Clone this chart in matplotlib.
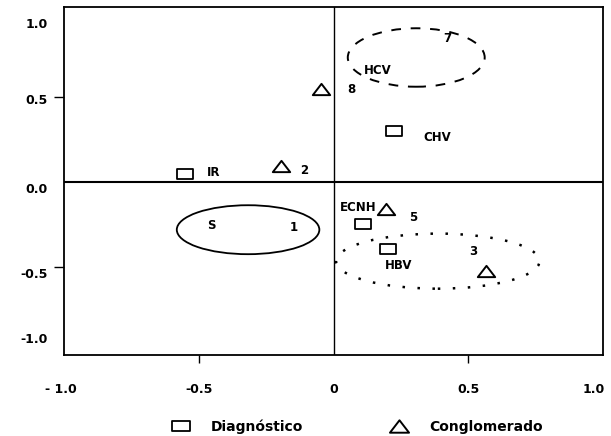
import matplotlib
matplotlib.use('Agg')
import matplotlib.pyplot as plt
from matplotlib.patches import Ellipse
from matplotlib.path import Path
from matplotlib.transforms import ScaledTranslation

plt.rcParams['font.family'] = ['DejaVu Sans']

# ---------------- data ----------------
diag_labels = ['IR', 'CHV', 'ECNH', 'HBV']
diag_x = [-0.55, 0.223, 0.109, 0.202]
diag_y = [0.048, 0.303, -0.246, -0.389]

cong_labels = ['8', '2', '5', '3']
cong_x = [-0.046, -0.194, 0.196, 0.566]
cong_y = [0.548, 0.097, -0.154, -0.521]

# labels drawn without a marker
extra_labels = ['S', '1', 'HCV', '7']
extra_x = [-0.455, -0.148, 0.165, 0.421]
extra_y = [-0.252, -0.266, 0.656, 0.848]

# cluster ellipses: centre x, centre y, width, height
ell_cx = [-0.317, 0.307, 0.387]
ell_cy = [-0.278, 0.735, -0.463]
ell_w = [0.529, 0.508, 0.755]
ell_h = [0.288, 0.344, 0.324]

xtick_vals = [-1.0, -0.5, 0.0, 0.5, 1.0]
xtick_labels = ['- 1.0', '-0.5', '0', '0.5', '1.0']
ytick_vals = [1.0, 0.5, 0.0, -0.5, -1.0]
ytick_labels = ['1.0', '0.5', '0.0', '-0.5', '-1.0']

# ---------------- styling ----------------
diag_offsets = [(20.2, 1.2), (31.3, -4.5), (-3.1, 12.0), (7.7, -12.0)]
cong_offsets = [(21.9, 0.0), (16.8, -3.6), (19.7, -6.5), (-8.9, 13.7)]
ell_styles = ['-', (0, (5, 5)), (0, (1, 5.0))]
ell_lws = [1.3, 1.4, 1.8]

rect = Path([(-1, -0.6), (1, -0.6), (1, 0.6), (-1, 0.6), (-1, -0.6)],
            [Path.MOVETO, Path.LINETO, Path.LINETO, Path.LINETO, Path.CLOSEPOLY])
tri = Path([(-1, -0.65), (1, -0.65), (0, 0.65), (-1, -0.65)],
           [Path.MOVETO, Path.LINETO, Path.LINETO, Path.CLOSEPOLY])

W, H = 611, 436
fig = plt.figure(figsize=(W / 100, H / 100), dpi=100)
ax = fig.add_axes([64 / W, 1 - 355 / H, (603 - 64) / W, (355 - 7) / H])
ax.set_xlim(-1.0, 1.0)
ax.set_ylim(-1.015, 1.032)

ax.axhline(0, color='black', lw=1.5, zorder=1)
ax.axvline(0, color='black', lw=1.0, zorder=1)

for cx, cy, w, h, ls, lw in zip(ell_cx, ell_cy, ell_w, ell_h, ell_styles, ell_lws):
    ax.add_patch(Ellipse((cx, cy), w, h, fill=False, edgecolor='black',
                         linestyle=ls, lw=lw, zorder=2))

ax.plot(diag_x, diag_y, ls='none', marker=rect, ms=12, mfc='white',
        mec='black', mew=1.3, label='Diagnóstico', zorder=3)
ax.plot(cong_x, cong_y, ls='none', marker=tri, ms=12.5, mfc='white',
        mec='black', mew=1.4, label='Conglomerado', zorder=3)

tfont = dict(fontsize=8.5, fontweight='bold', ha='center', va='center')
for lab, x, y, off in zip(diag_labels, diag_x, diag_y, diag_offsets):
    ax.annotate(lab, (x, y), xytext=off, textcoords='offset points', **tfont)
for lab, x, y, off in zip(cong_labels, cong_x, cong_y, cong_offsets):
    ax.annotate(lab, (x, y), xytext=off, textcoords='offset points', **tfont)
for lab, x, y in zip(extra_labels, extra_x, extra_y):
    ax.text(x, y, lab, **tfont)

for s in ax.spines.values():
    s.set_linewidth(1.3)

ax.set_xticks(xtick_vals, xtick_labels)
ax.set_yticks(ytick_vals, ytick_labels)
ax.tick_params(axis='x', direction='out', length=6, width=1.0, pad=14,
               labelsize=9)
ax.tick_params(axis='y', direction='out', length=7, width=1.0, pad=5,
               labelsize=9)
for lab in ax.get_xticklabels() + ax.get_yticklabels():
    lab.set_fontweight('bold')

# only the +-0.5 ticks carry visible marks
for t, v in zip(ax.xaxis.get_major_ticks(), xtick_vals):
    if abs(v) != 0.5:
        t.tick1line.set_visible(False)
for t, v in zip(ax.yaxis.get_major_ticks(), ytick_vals):
    if abs(v) != 0.5:
        t.tick1line.set_visible(False)

# nudge tick labels to where the reference prints them (pixels)
y_nudge = [-10.3, -1.8, -5.2, -5.2, 14.5]
for t, dy in zip(ax.yaxis.get_major_ticks(), y_nudge):
    t.label1.set_transform(t.label1.get_transform() +
                           ScaledTranslation(0, dy / 100, fig.dpi_scale_trans))
x_nudge = [-3, 0, 0, 0, -9]
for t, dx in zip(ax.xaxis.get_major_ticks(), x_nudge):
    t.label1.set_transform(t.label1.get_transform() +
                           ScaledTranslation(dx / 100, 0, fig.dpi_scale_trans))

fig.legend(loc='center left', bbox_to_anchor=(167 / W, 1 - 427 / H),
           ncol=2, frameon=False, handlelength=2.0, handletextpad=1.15,
           columnspacing=5.9, borderpad=0, borderaxespad=0, markerscale=1.1,
           prop={'size': 10, 'weight': 'bold'})

fig.savefig('out.png', dpi=100)
